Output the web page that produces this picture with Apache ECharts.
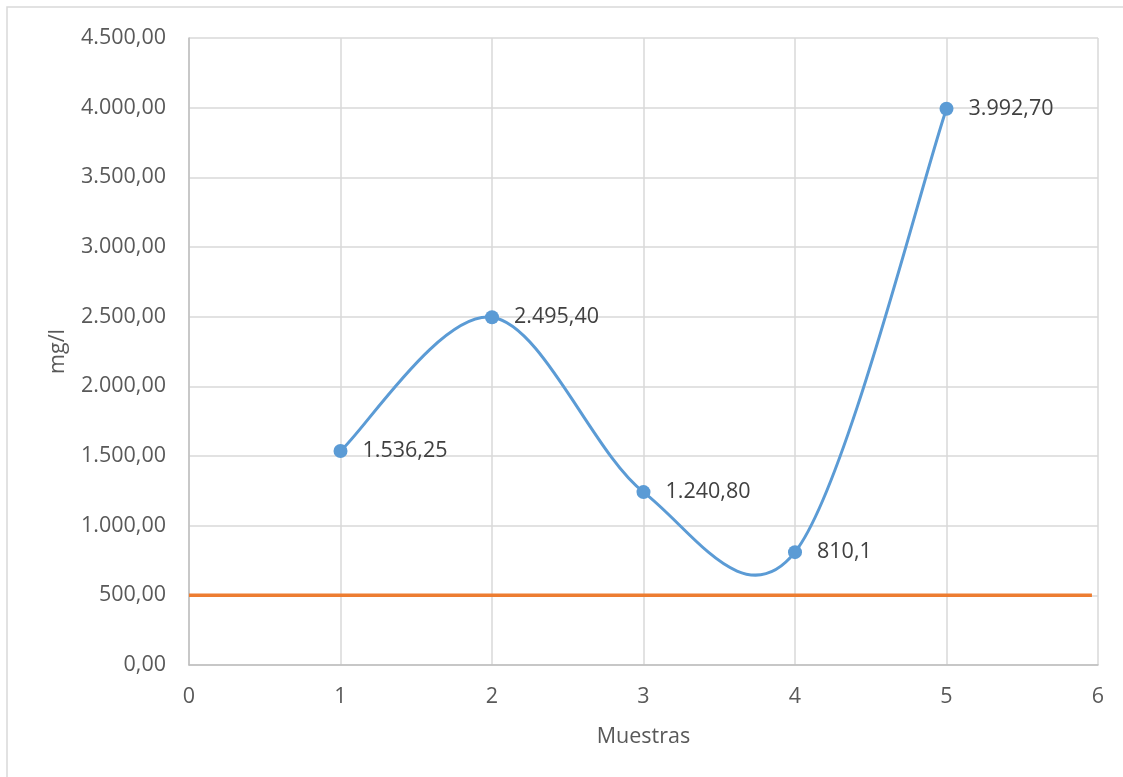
<!DOCTYPE html>
<html>
<head>
<meta charset="utf-8">
<script src="https://cdn.jsdelivr.net/npm/echarts@6/dist/echarts.min.js"></script>
<style>
  html, body { margin: 0; padding: 0; background: #ffffff; }
  #chart { width: 1123px; height: 777px; }
</style>
</head>
<body>
<div id="chart"></div>
<script>
// Sample numbers and measured concentration (mg/l)
const muestras = [1, 2, 3, 4, 5];
const valores = [1536.25, 2495.40, 1240.80, 810.1, 3992.70];
const etiquetas = ['1.536,25', '2.495,40', '1.240,80', '810,1', '3.992,70'];

// Reference limit line
const limiteX = [0, 5.96];
const limiteY = [500, 500];

// Axis ranges
const yMin = 0, yMax = 4500, yStep = 500;
const xMin = 0, xMax = 6, xStep = 1;

const FONT = '"Open Sans", "Liberation Sans", sans-serif';
const FS = 21.5;
const TEXT = '#595959';
const GRID = '#d9d9d9';
const BLUE = '#5B9BD5';
const ORANGE = '#ED7D31';

// Number formatting with '.' thousands separator and ',' decimals
function fmt(v, decimals) {
  const parts = v.toFixed(decimals).split('.');
  parts[0] = parts[0].replace(/\B(?=(\d{3})+(?!\d))/g, '.');
  return parts.join(',');
}

const puntos = muestras.map((x, i) => [x, valores[i]]);
const limite = limiteX.map((x, i) => [x, limiteY[i]]);

// Smooth curve: each segment is a cubic Bézier whose control points
// follow the neighbouring samples (Catmull-Rom style, 1/6 tension).
function renderSegment(params, api) {
  const i = params.dataIndex;
  if (i >= puntos.length - 1) return null;
  const p = k => api.coord(puntos[Math.max(0, Math.min(puntos.length - 1, k))]);
  const p0 = p(i - 1), p1 = p(i), p2 = p(i + 1), p3 = p(i + 2);
  return {
    type: 'bezierCurve',
    shape: {
      x1: p1[0], y1: p1[1],
      x2: p2[0], y2: p2[1],
      cpx1: p1[0] + (p2[0] - p0[0]) / 6,
      cpy1: p1[1] + (p2[1] - p0[1]) / 6,
      cpx2: p2[0] - (p3[0] - p1[0]) / 6,
      cpy2: p2[1] - (p3[1] - p1[1]) / 6
    },
    style: { stroke: BLUE, lineWidth: 3, fill: null, lineCap: 'round' }
  };
}

const chart = echarts.init(document.getElementById('chart'), null, { renderer: 'canvas' });

chart.setOption({
  backgroundColor: '#ffffff',
  animation: false,
  textStyle: { fontFamily: FONT },
  graphic: [{
    type: 'rect',
    shape: { x: 7, y: 7, width: 1300, height: 900 },
    style: { fill: null, stroke: GRID, lineWidth: 1.5 },
    silent: true,
    z: -1
  }],
  grid: { left: 189, right: 25, top: 38, bottom: 112, containLabel: false },
  xAxis: {
    type: 'value',
    min: xMin, max: xMax, interval: xStep,
    name: 'Muestras',
    nameLocation: 'middle',
    nameGap: 61,
    nameTextStyle: { color: TEXT, fontSize: FS, fontFamily: FONT },
    axisLine: { show: true, lineStyle: { color: '#bfbfbf', width: 1.5 } },
    axisTick: { show: false },
    splitLine: { show: true, lineStyle: { color: GRID, width: 1.5 } },
    axisLabel: { color: TEXT, fontSize: FS, fontFamily: FONT, margin: 21 }
  },
  yAxis: {
    type: 'value',
    min: yMin, max: yMax, interval: yStep,
    name: 'mg/l',
    nameLocation: 'middle',
    nameGap: 120,
    nameRotate: 90,
    nameTextStyle: { color: TEXT, fontSize: FS, fontFamily: FONT },
    axisLine: { show: true, lineStyle: { color: '#bfbfbf', width: 1.5 } },
    axisTick: { show: false },
    splitLine: { show: true, lineStyle: { color: GRID, width: 1.5 } },
    axisLabel: {
      color: TEXT, fontSize: FS, fontFamily: FONT, margin: 23,
      formatter: v => fmt(v, 2)
    }
  },
  series: [
    {
      name: 'Límite',
      type: 'line',
      data: limite,
      symbol: 'none',
      lineStyle: { color: ORANGE, width: 3.5 },
      z: 2
    },
    {
      name: 'Curva',
      type: 'custom',
      data: puntos,
      renderItem: renderSegment,
      clip: true,
      z: 3
    },
    {
      name: 'mg/l',
      type: 'scatter',
      data: puntos,
      symbol: 'circle',
      symbolSize: 14,
      itemStyle: { color: BLUE, opacity: 1 },
      label: {
        show: true,
        position: 'right',
        distance: 15,
        color: '#404040',
        fontSize: FS,
        fontFamily: FONT,
        formatter: p => etiquetas[p.dataIndex]
      },
      z: 4
    }
  ]
});
</script>
</body>
</html>
